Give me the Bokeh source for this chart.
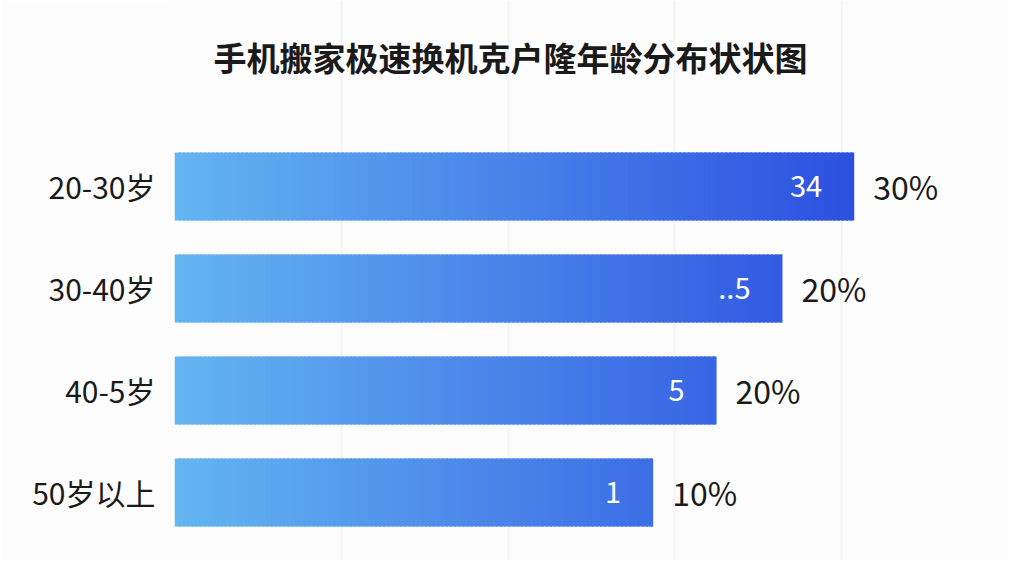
from bokeh.plotting import figure
from bokeh.models import Range1d, ColumnDataSource, FixedTicker
from bokeh.core.properties import value
from bokeh.embed import file_html
from bokeh.resources import INLINE

# ---- data ----
categories = ["20-30岁", "30-40岁", "40-5岁", "50岁以上"]
bar_values = [81.5, 72.9, 65.0, 57.4]
inner_labels = ["34", "..5", "5", "1"]
pct_labels = ["30%", "20%", "20%", "10%"]
title_text = "手机搬家极速换机克户隆年龄分布状状图"

FONT = "Noto Sans CJK SC"
C_LEFT = (100, 181, 241)
C_RIGHT = (44, 80, 224)

# category slots: index 0 at top, one unit per category
ypos = list(range(len(categories)))

p = figure(width=1008, height=560,
           y_range=Range1d(start=3.6667, end=-1.8235),
           x_range=Range1d(0, 100),
           output_backend="svg", toolbar_location=None,
           min_border_left=174, min_border_right=0,
           min_border_top=0, min_border_bottom=0)

p.background_fill_color = "#fdfdfd"
p.border_fill_color = "#fdfdfd"
p.outline_line_color = None
p.xaxis.visible = False
p.ygrid.grid_line_color = None
p.xgrid.grid_line_color = "#f4f4f4"
p.xgrid.grid_line_width = 2

ax = p.yaxis[0]
ax.ticker = FixedTicker(ticks=ypos)
ax.major_label_overrides = {i: c for i, c in zip(ypos, categories)}
ax.axis_line_color = None
ax.major_tick_line_color = None
ax.minor_tick_line_color = None
ax.major_tick_out = 0
ax.major_tick_in = 0
ax.major_label_standoff = 19
ax.major_label_text_font = FONT
ax.major_label_text_font_size = "30px"
ax.major_label_text_color = "#1a1a1a"

# gradient bars built from slices whose colour depends on x position
vmax = max(bar_values)
step = 0.5
lefts, rights, ys, colors = [], [], [], []
for yi, v in zip(ypos, bar_values):
    x = 0.0
    while x < v:
        r = min(x + step * 1.6, v)
        t = (x + step / 2) / vmax
        t = min(max(t, 0), 1)
        c = tuple(int(round(a + (b - a) * t)) for a, b in zip(C_LEFT, C_RIGHT))
        lefts.append(x); rights.append(r); ys.append(yi)
        colors.append("#%02x%02x%02x" % c)
        x += step

src = ColumnDataSource(dict(left=lefts, right=rights, y=ys, color=colors))
p.hbar(y="y", left="left", right="right", height=0.667, fill_color="color",
       line_color=None, source=src)

p.text(x=bar_values, y=ypos, text=inner_labels, x_offset=-32,
       text_align="right", text_baseline="middle", text_color="white",
       text_font=value(FONT), text_font_size="29px")

p.text(x=bar_values, y=ypos, text=pct_labels, x_offset=19,
       text_align="left", text_baseline="middle", text_color="#1a1a1a",
       text_font=value(FONT), text_font_size="32px")

# title drawn inside the (full-height) frame
p.text(x=[40.3], y=[-1.265], text=[title_text], text_align="center",
       text_baseline="middle", text_color="#1a1a1a", text_font=value(FONT),
       text_font_size="33px", text_font_style="bold")

open("out.html", "w").write(file_html(p, INLINE))
